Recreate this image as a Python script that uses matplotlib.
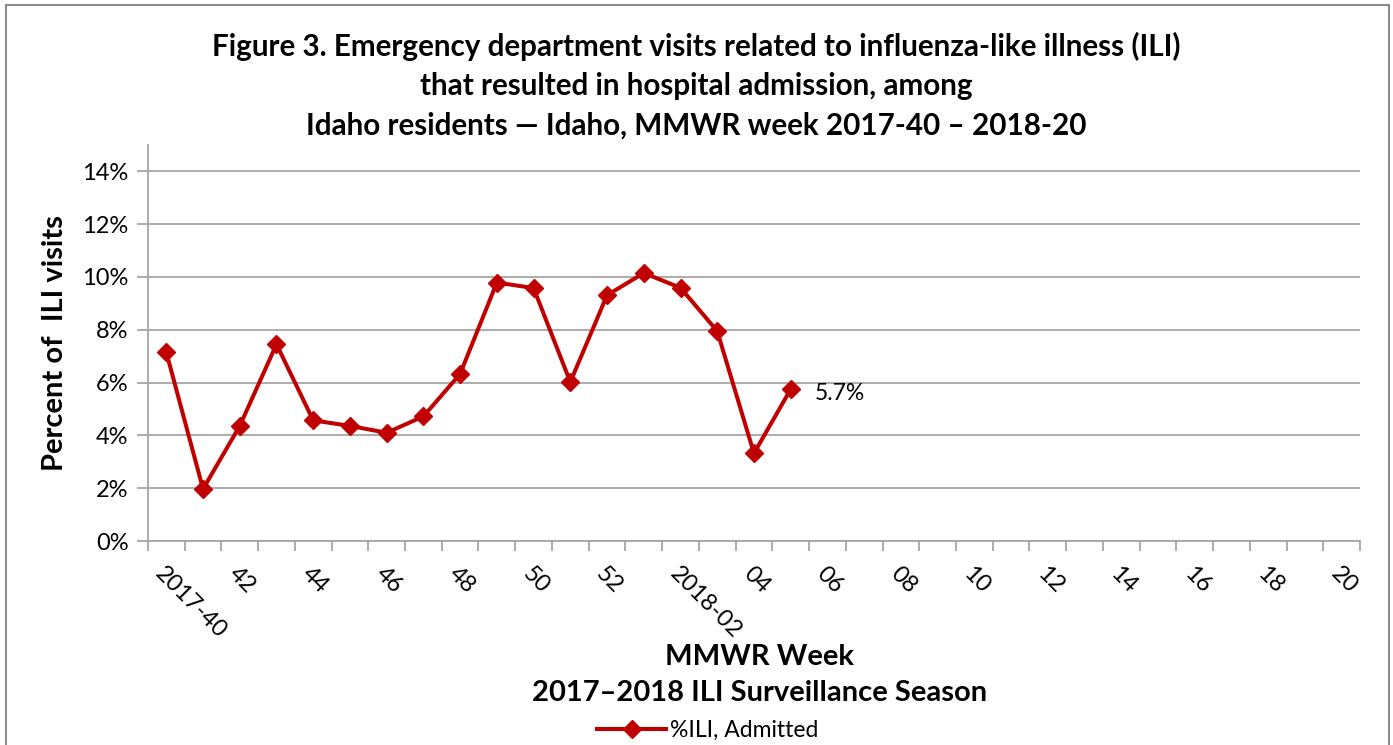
import numpy as np
import matplotlib.pyplot as plt
from matplotlib.patches import Rectangle
from matplotlib.ticker import FixedLocator, PercentFormatter

plt.rcParams['font.family'] = ['Lato', 'DejaVu Sans']

# MMWR weeks 2017-40 .. 2018-20 (33 categories)
weeks = ['2017-%02d' % w for w in range(40, 53)] + ['2018-%02d' % w for w in range(1, 21)]
tick_labels = ['2017-40', '42', '44', '46', '48', '50', '52',
               '2018-02', '04', '06', '08', '10', '12', '14', '16', '18', '20']
# percent of ILI ED visits resulting in admission (data through 2018-05)
pct_admitted = [7.15, 1.97, 4.36, 7.45, 4.57, 4.36, 4.10, 4.72, 6.33,
                9.79, 9.58, 6.02, 9.31, 10.15, 9.59, 7.95, 3.32, 5.75]
last_label = '5.7%'

red = '#C00000'
grid_gray = '#A6A6A6'

fig = plt.figure(figsize=(13.93, 7.45), dpi=100)
ax = fig.add_axes([0.1062, 0.2738, 0.8701, 0.5316])

x = np.arange(len(pct_admitted))
line, = ax.plot(x, pct_admitted, color=red, lw=2.9, marker='D', ms=9.5,
                label='%ILI, Admitted')
ax.annotate(last_label, (x[-1], pct_admitted[-1]), xytext=(17, -3),
            textcoords='offset points', fontsize=16.5, va='center', ha='left')

ax.set_xlim(-0.5, len(weeks) - 0.5)
ax.set_ylim(0, 15)
ax.set_yticks(np.arange(0, 15, 2))
ax.yaxis.set_major_formatter(PercentFormatter(decimals=0))
ax.yaxis.grid(True, color=grid_gray, lw=1.3)
ax.set_axisbelow(True)

ax.set_xticks(np.arange(0, len(weeks), 2))
ax.set_xticklabels(tick_labels, rotation=-45, ha='left', va='top',
                   rotation_mode='anchor')
ax.xaxis.set_minor_locator(FixedLocator(np.arange(-0.5, len(weeks), 1)))
ax.tick_params(axis='x', which='major', length=0, pad=16, labelsize=17)
ax.tick_params(axis='x', which='minor', length=7, color=grid_gray, width=1.3)
ax.tick_params(axis='y', length=8, color=grid_gray, width=1.3, labelsize=17, pad=6)

for s in ['top', 'right']:
    ax.spines[s].set_visible(False)
for s in ['left', 'bottom']:
    ax.spines[s].set_color(grid_gray)
    ax.spines[s].set_linewidth(1.3)

ax.set_ylabel('Percent of  ILI visits', fontsize=21, fontweight='bold', labelpad=10)

fig.text(0.5, 0.957,
         'Figure 3. Emergency department visits related to influenza-like illness (ILI)\n'
         'that resulted in hospital admission, among\n'
         'Idaho residents \u2014 Idaho, MMWR week 2017-40 \u2013 2018-20',
         ha='center', va='top', fontsize=21.3, fontweight='bold', linespacing=1.48)
fig.text(0.545, 0.094, 'MMWR Week\n2017\u20132018 ILI Surveillance Season',
         ha='center', va='center', fontsize=21, fontweight='bold', linespacing=1.45)

fig.legend(handles=[line], loc='center', bbox_to_anchor=(0.508, 0.02),
           frameon=False, fontsize=16.5, handlelength=3.0, handletextpad=0.15)

fig.patches.append(Rectangle((0.004, -0.01), 0.993, 1.003, transform=fig.transFigure,
                             fill=False, edgecolor='#8C8C8C', lw=1.5))

fig.savefig('out.png', dpi=100)
